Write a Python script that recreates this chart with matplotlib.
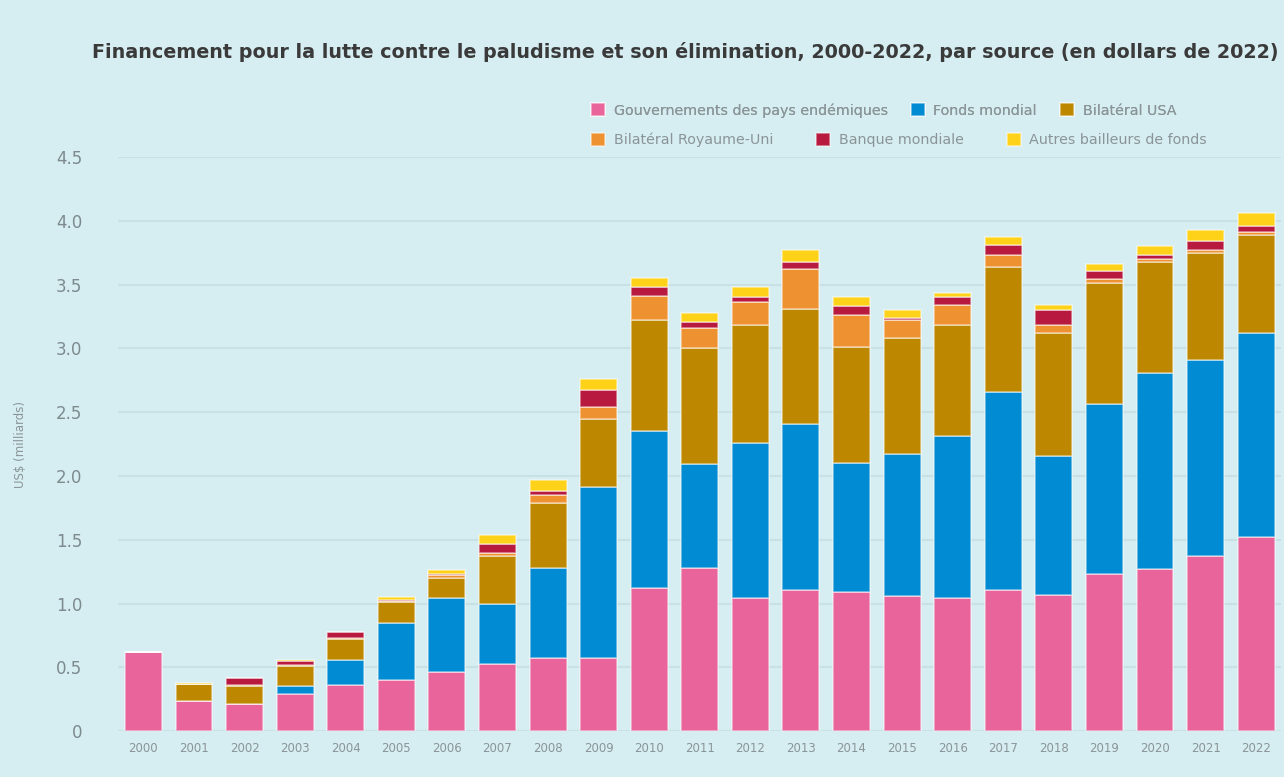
import numpy as np
import matplotlib.pyplot as plt

# Years and funding by source (US$ billions, 2022 dollars)
years = [str(y) for y in range(2000, 2023)]
gouv = [0.62, 0.24, 0.21, 0.29, 0.36, 0.40, 0.46, 0.53, 0.57, 0.57, 1.12, 1.28,
        1.04, 1.11, 1.09, 1.06, 1.04, 1.11, 1.07, 1.23, 1.27, 1.37, 1.52]
fonds_mondial = [0, 0, 0, 0.06, 0.20, 0.45, 0.58, 0.47, 0.71, 1.34, 1.23, 0.81,
                 1.22, 1.30, 1.01, 1.11, 1.27, 1.55, 1.09, 1.33, 1.54, 1.54, 1.60]
usa = [0, 0.13, 0.14, 0.16, 0.16, 0.16, 0.16, 0.37, 0.51, 0.54, 0.87, 0.91,
       0.92, 0.90, 0.91, 0.91, 0.87, 0.98, 0.96, 0.95, 0.87, 0.84, 0.77]
royaume_uni = [0, 0, 0.01, 0.01, 0.01, 0.01, 0.02, 0.03, 0.06, 0.09, 0.19, 0.16,
               0.18, 0.31, 0.25, 0.14, 0.16, 0.09, 0.06, 0.03, 0.02, 0.02, 0.02]
banque_mondiale = [0, 0, 0.06, 0.03, 0.05, 0.01, 0.01, 0.07, 0.03, 0.13, 0.07, 0.05,
                   0.04, 0.06, 0.07, 0.02, 0.06, 0.08, 0.12, 0.07, 0.03, 0.07, 0.05]
autres = [0, 0.01, 0, 0.01, 0, 0.02, 0.03, 0.07, 0.09, 0.09, 0.07, 0.07,
          0.08, 0.09, 0.07, 0.06, 0.03, 0.06, 0.04, 0.05, 0.07, 0.09, 0.10]

series = [
    ("Gouvernements des pays endémiques", gouv, "#E8649A"),
    ("Fonds mondial", fonds_mondial, "#008BD2"),
    ("Bilatéral USA", usa, "#BD8800"),
    ("Bilatéral Royaume-Uni", royaume_uni, "#EE9130"),
    ("Banque mondiale", banque_mondiale, "#B8193F"),
    ("Autres bailleurs de fonds", autres, "#FFD21A"),
]

bg = "#D6EDF1"
fig = plt.figure(figsize=(12.84, 7.77), dpi=100, facecolor=bg)
ax = fig.add_axes([0.092, 0.059, 0.906, 0.739])
ax.set_facecolor(bg)

x = np.arange(len(years))
bottom = np.zeros(len(years))
handles = []
for name, vals, color in series:
    vals = np.array(vals)
    b = ax.bar(x, vals, width=0.73, bottom=bottom, color=color, label=name,
               edgecolor=(1, 1, 1, 0.5), linewidth=1.2, zorder=3)
    handles.append(b)
    bottom += vals

ax.set_xlim(-0.5, len(years) - 0.5)
ax.set_ylim(0, 4.5)
ax.set_yticks(np.arange(0, 4.51, 0.5))
ax.set_yticklabels(["0"] + [f"{v:.1f}" for v in np.arange(0.5, 4.51, 0.5)])
ax.set_xticks(x)
ax.set_xticklabels(years)
ax.tick_params(axis="y", length=0, pad=26, labelsize=12, labelcolor="#7d8a8e")
ax.tick_params(axis="x", length=0, pad=8, labelsize=8.5, labelcolor="#8a9598")
ax.grid(axis="y", color="#c8e1e5", linewidth=1.5, zorder=0)
for s in ax.spines.values():
    s.set_visible(False)

ax.set_ylabel("US$ (milliards)", fontsize=8.5, color="#8a9598")
ax.yaxis.set_label_coords(-0.078, 0.5)

fig.text(0.072, 0.933, "Financement pour la lutte contre le paludisme et son élimination, "
         "2000-2022, par source (en dollars de 2022)",
         fontsize=13.8, fontweight="bold", color="#3a3a3a", ha="left", va="center")

# two legend rows, laid out like a flowing html legend
leg_kw = dict(ncol=3, frameon=False, fontsize=10.3, labelcolor="#8a9598",
              handlelength=1.0, handleheight=1.0, handletextpad=0.6,
              borderpad=0, borderaxespad=0)
leg1 = fig.legend(handles[:3], [s[0] for s in series[:3]], loc="center left",
                  bbox_to_anchor=(0.460, 0.858), columnspacing=1.6, **leg_kw)
fig.add_artist(leg1)
fig.legend(handles[3:], [s[0] for s in series[3:]], loc="center left",
           bbox_to_anchor=(0.460, 0.820), columnspacing=3.0, **leg_kw)

fig.savefig("out.png", dpi=100, facecolor=bg)
